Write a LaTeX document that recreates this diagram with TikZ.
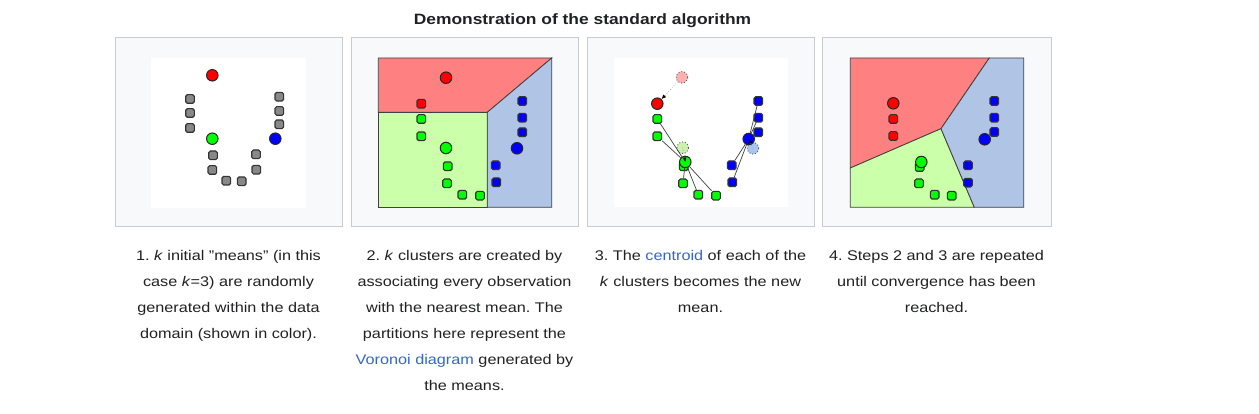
\documentclass[tikz,border=0pt]{standalone}
\usepackage{fontspec}
\setmainfont{Liberation Sans}[FakeStretch=1.16]
\usetikzlibrary{arrows.meta}
\definecolor{framegray}{HTML}{C8CCD1}
\definecolor{framebg}{HTML}{F8F9FA}
\definecolor{ink}{HTML}{202122}
\definecolor{link}{HTML}{3366CC}
\definecolor{redzone}{HTML}{FF8080}
\definecolor{greenzone}{HTML}{CCFFAA}
\definecolor{bluezone}{HTML}{B0C4E6}
\definecolor{obsgray}{HTML}{888888}
\definecolor{oldred}{HTML}{FFB0B0}
\definecolor{oldgreen}{HTML}{CCF2AE}
\definecolor{oldblue}{HTML}{A8C4F2}
\frenchspacing
\begin{document}
\begin{tikzpicture}[x=1pt,y=-1pt,
    frame/.style={draw=framegray,fill=framebg,line width=1pt},
    obs/.style={rectangle,rounded corners=1.6pt,minimum size=8.6pt,inner sep=0pt,draw=black!80,line width=1.1pt},
    mean/.style={circle,minimum size=11.5pt,inner sep=0pt,draw=black!85,line width=1pt},
    oldmean/.style={circle,minimum size=11.5pt,inner sep=0pt,draw=black!65,dotted,line width=0.9pt},
    region/.style={draw=black!75,line width=0.8pt},
    link/.style={draw=black!75,line width=0.7pt},
    meanmove/.style={draw=black!45,dotted,line width=0.6pt,-{Latex[length=4.5pt,width=4pt,black]}},
    caption/.style={anchor=north,align=center,inner sep=0pt,text=ink,font=\fontsize{14pt}{26pt}\selectfont}]
\useasboundingbox[fill=white] (0,0) rectangle (1259,414);
\node[font=\bfseries\fontsize{15pt}{18pt}\selectfont,text=ink,anchor=base] (title) at (582.5,24.5) {Demonstration of the standard algorithm};
% panel 1: initial means
\draw[frame] (115,38) rectangle (342,227);
\fill[white] (151,58) rectangle (306,208);
\node[obs,fill=obsgray] (p1s1) at (190,99) {};
\node[obs,fill=obsgray] (p1s2) at (190,113) {};
\node[obs,fill=obsgray] (p1s3) at (190,128) {};
\node[obs,fill=obsgray] (p1s4) at (279.3,96.7) {};
\node[obs,fill=obsgray] (p1s5) at (279.3,111) {};
\node[obs,fill=obsgray] (p1s6) at (279.3,124.3) {};
\node[obs,fill=obsgray] (p1s7) at (213,155.3) {};
\node[obs,fill=obsgray] (p1s8) at (212.3,170) {};
\node[obs,fill=obsgray] (p1s9) at (226.3,180.7) {};
\node[obs,fill=obsgray] (p1s10) at (241.7,181.3) {};
\node[obs,fill=obsgray] (p1s11) at (256,154.3) {};
\node[obs,fill=obsgray] (p1s12) at (256.3,169.7) {};
\node[mean,fill=red] (p1r) at (212.3,75.3) {};
\node[mean,fill=green] (p1g) at (212.3,138.7) {};
\node[mean,fill=blue] (p1b) at (275.3,138.7) {};
% panel 2: assignment
\draw[frame] (351,38) rectangle (578,227);
\filldraw[region,fill=redzone] (378.3,58) -- (551.7,58) -- (487.3,112.3) -- (378.3,112.3) -- cycle;
\filldraw[region,fill=greenzone] (378.3,112.3) -- (487.3,112.3) -- (487.3,207.3) -- (378.3,207.3) -- cycle;
\filldraw[region,fill=bluezone] (487.3,112.3) -- (551.7,58) -- (551.7,207.3) -- (487.3,207.3) -- cycle;
\node[obs,fill=red] (p2r1) at (421.3,103.7) {};
\node[obs,fill=green] (p2g1) at (421.3,119) {};
\node[obs,fill=green] (p2g2) at (421.3,136.3) {};
\node[obs,fill=green] (p2g3) at (447.7,166.3) {};
\node[obs,fill=green] (p2g4) at (447,183.3) {};
\node[obs,fill=green] (p2g5) at (462.3,194.7) {};
\node[obs,fill=green] (p2g6) at (480,195.7) {};
\node[obs,fill=blue] (p2b1) at (522.3,101) {};
\node[obs,fill=blue] (p2b2) at (522.3,117.7) {};
\node[obs,fill=blue] (p2b3) at (522.3,132.3) {};
\node[obs,fill=blue] (p2b4) at (495.7,165.3) {};
\node[obs,fill=blue] (p2b5) at (496.3,182.3) {};
\node[mean,fill=red] (p2r) at (446,77.7) {};
\node[mean,fill=green] (p2g) at (446,148) {};
\node[mean,fill=blue] (p2b) at (517,148.3) {};
% panel 3: update
\draw[frame] (587,38) rectangle (814,227);
\fill[white] (614.3,58) rectangle (787.7,207.3);
\node[oldmean,fill=oldred] (p3ro) at (682,77.3) {};
\node[oldmean,fill=oldgreen] (p3go) at (682.7,147.7) {};
\node[oldmean,fill=oldblue] (p3bo) at (753,148.3) {};
\node[obs,fill=green] (p3g1) at (657.3,119) {};
\node[obs,fill=green] (p3g2) at (657.3,136.3) {};
\node[obs,fill=green] (p3g3) at (683.7,166.3) {};
\node[obs,fill=green] (p3g4) at (683,183.3) {};
\node[obs,fill=green] (p3g5) at (698.3,194.7) {};
\node[obs,fill=green] (p3g6) at (716,195.7) {};
\node[obs,fill=blue] (p3b1) at (758.3,101) {};
\node[obs,fill=blue] (p3b2) at (758.3,117.7) {};
\node[obs,fill=blue] (p3b3) at (758.3,132.3) {};
\node[obs,fill=blue] (p3b4) at (731.7,165.3) {};
\node[obs,fill=blue] (p3b5) at (732.3,182.3) {};
\node[mean,fill=red] (p3r) at (657.3,103.7) {};
\node[mean,fill=green] (p3g) at (685.3,162) {};
\node[mean,fill=blue] (p3b) at (748.7,139) {};
\draw[link] (p3g1) -- (p3g);
\draw[link] (p3g2) -- (p3g);
\draw[link] (p3g4) -- (p3g);
\draw[link] (p3g5) -- (p3g);
\draw[link] (p3g6) -- (p3g);
\draw[link] (p3b1) -- (p3b);
\draw[link] (p3b2) -- (p3b);
\draw[link] (p3b3) -- (p3b);
\draw[link] (p3b4) -- (p3b);
\draw[link] (p3b5) -- (p3b);
\draw[meanmove] (p3ro) -- (p3r);
\draw[meanmove] (p3go.center) -- (p3g.center);
\draw[meanmove] (p3bo.center) -- (p3b.center);
% panel 4: converged
\draw[frame] (822,38) rectangle (1051,227);
\filldraw[region,fill=redzone] (850.3,58) -- (989.3,58) -- (941,128.7) -- (850.3,168) -- cycle;
\filldraw[region,fill=greenzone] (850.3,168) -- (941,128.7) -- (974.3,207.3) -- (850.3,207.3) -- cycle;
\filldraw[region,fill=bluezone] (989.3,58) -- (1023.7,58) -- (1023.7,207.3) -- (974.3,207.3) -- (941,128.7) -- cycle;
\node[obs,fill=red] (p4r1) at (893.3,119) {};
\node[obs,fill=red] (p4r2) at (893.3,136) {};
\node[obs,fill=green] (p4g1) at (919.7,167) {};
\node[obs,fill=green] (p4g2) at (919,183.3) {};
\node[obs,fill=green] (p4g3) at (934.7,194.7) {};
\node[obs,fill=green] (p4g4) at (951.7,195.7) {};
\node[obs,fill=blue] (p4b1) at (994.3,101) {};
\node[obs,fill=blue] (p4b2) at (994.3,117.7) {};
\node[obs,fill=blue] (p4b3) at (994.3,132) {};
\node[obs,fill=blue] (p4b4) at (968,165.3) {};
\node[obs,fill=blue] (p4b5) at (968,182.7) {};
\node[mean,fill=red] (p4r) at (893.3,103.3) {};
\node[mean,fill=green] (p4g) at (921.3,162) {};
\node[mean,fill=blue] (p4b) at (984.7,139.3) {};
% captions
\node[caption] (cap1) at (228.5,250) {1. \textit{k} initial \char34 means\char34{} (in this\\case \textit{k}=3) are randomly\\generated within the data\\domain (shown in color).};
\node[caption] (cap2) at (464.5,250) {2. \textit{k} clusters are created by\\associating every observation\\with the nearest mean. The\\partitions here represent the\\\textcolor{link}{Voronoi diagram} generated by\\the means.};
\node[caption] (cap3) at (700.5,250) {3. The \textcolor{link}{centroid} of each of the\\\textit{k} clusters becomes the new\\mean.};
\node[caption] (cap4) at (936.5,250) {4. Steps 2 and 3 are repeated\\until convergence has been\\reached.};
\end{tikzpicture}
\end{document}
